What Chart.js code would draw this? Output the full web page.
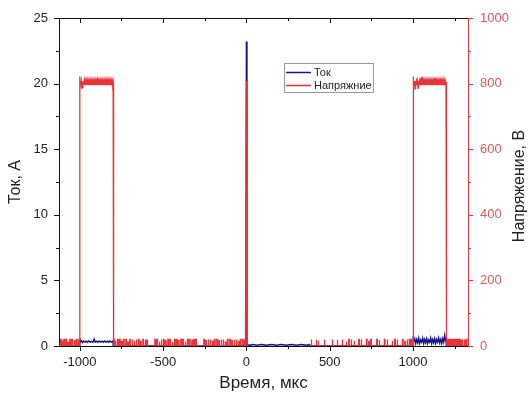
<!DOCTYPE html>
<html lang="ru">
<head>
<meta charset="UTF-8">
<title>Ток и напряжение</title>
<style>
    body { margin: 0; background: #fff; }
    .wrap { width: 532px; height: 398px; }
</style>
<script src="https://cdn.jsdelivr.net/npm/chart.js"></script>
</head>
<body>
<div class="wrap"><canvas id="chart"></canvas></div>
<script>
// axis ticks
const xTicks = [-1000, -500, 0, 500, 1000];
const xMinor = [-750, -250, 250, 750, 1250];
const aTicks = [0, 5, 10, 15, 20, 25];
const aMinor = [2.5, 7.5, 12.5, 17.5, 22.5];
const vTicks = [0, 200, 400, 600, 800, 1000];
const vMinor = [100, 300, 500, 700, 900];

// current trace [time, A]
const currentTrace = [
    [-1125, 0], [-1000, 0], [-1000, 0.6], [-996, 0.3], [-990, 0.4], [-984, 0.28], [-978, 0.38], [-970, 0.3],
    [-962, 0.36], [-954, 0.28], [-946, 0.38], [-938, 0.3], [-930, 0.36], [-922, 0.3], [-914, 0.52], [-908, 0.3],
    [-900, 0.36], [-892, 0.28], [-884, 0.38], [-876, 0.3], [-868, 0.36], [-860, 0.28], [-852, 0.38], [-844, 0.3],
    [-836, 0.36], [-828, 0.28], [-820, 0.38], [-812, 0.3], [-804, 0.36], [-800, 0.3], [-800, 0],
    [-3, 0], [0, 23.2], [3, 0.1], [20, 0.05], [40, 0.12], [60, 0.06], [90, 0.11], [120, 0.05], [150, 0.12],
    [180, 0.06], [210, 0.11], [240, 0.05], [270, 0.12], [300, 0.06], [330, 0.11], [360, 0.05], [378, 0.1], [382, 0],
    [1000, 0], [1000, 0.75], [1004, 0.3], [1010, 0.55], [1016, 0.2], [1022, 0.5], [1028, 0.25], [1034, 0.6],
    [1040, 0.2], [1046, 0.45], [1052, 0.3], [1058, 0.6], [1064, 0.2], [1070, 0.5], [1076, 0.25], [1082, 0.55],
    [1088, 0.2], [1094, 0.45], [1100, 0.3], [1106, 0.6], [1112, 0.2], [1118, 0.5], [1124, 0.25], [1130, 0.55],
    [1136, 0.2], [1142, 0.5], [1148, 0.3], [1154, 0.6], [1160, 0.25], [1166, 0.5], [1172, 0.2], [1178, 0.55],
    [1184, 0.3], [1190, 0.8], [1196, 0.4], [1200, 0.3], [1200, 0], [1330, 0]
];

// voltage trace [time, V]: pulses and the discharge spike
const voltageTrace = [
    [-1125, 0],
    [-1000, 0], [-1000, 822], [-998, 800], [-995, 808], [-992, 796], [-990, 784], [-988, 806], [-985, 796],
    [-982, 786], [-979, 808], [-976, 796], [-973, 809], [-970, 796], [-967, 808], [-964, 795], [-961, 807],
    [-958, 796], [-955, 808], [-952, 795], [-949, 807], [-946, 796], [-943, 808], [-940, 795], [-937, 807],
    [-934, 796], [-931, 808], [-928, 795], [-925, 807], [-922, 796], [-919, 808], [-916, 795], [-913, 807],
    [-910, 796], [-907, 808], [-904, 795], [-901, 807], [-898, 796], [-895, 808], [-894, 818], [-892, 796],
    [-889, 808], [-886, 795], [-883, 807], [-880, 796], [-877, 808], [-874, 795], [-871, 807], [-868, 796],
    [-865, 808], [-862, 795], [-859, 807], [-856, 796], [-853, 808], [-850, 795], [-847, 807], [-844, 796],
    [-841, 808], [-838, 795], [-835, 807], [-832, 796], [-829, 808], [-826, 795], [-823, 807], [-820, 796],
    [-817, 808], [-814, 795], [-811, 807], [-808, 796], [-805, 808], [-802, 797], [-800, 802], [-800, 0],
    [-4, 0], [0, 808], [3, -15], [378, -15], [380, 0],
    [1000, 0], [1000, 822], [1002, 800], [1005, 808], [1008, 796], [1011, 808], [1012, 784], [1014, 806],
    [1017, 796], [1020, 808], [1023, 795], [1026, 807], [1029, 796], [1030, 786], [1032, 807], [1035, 796],
    [1038, 808], [1041, 795], [1044, 807], [1047, 796], [1050, 808], [1053, 795], [1056, 820], [1058, 796],
    [1061, 808], [1064, 795], [1067, 807], [1070, 796], [1073, 808], [1076, 795], [1079, 807], [1082, 796],
    [1085, 808], [1088, 795], [1091, 807], [1094, 796], [1097, 808], [1100, 795], [1103, 807], [1106, 796],
    [1109, 808], [1112, 795], [1115, 807], [1118, 796], [1121, 808], [1124, 795], [1127, 807], [1130, 796],
    [1134, 818], [1136, 796], [1139, 808], [1142, 795], [1145, 807], [1148, 796], [1151, 808], [1154, 795],
    [1157, 807], [1160, 796], [1163, 808], [1166, 795], [1169, 807], [1172, 796], [1175, 808], [1178, 795],
    [1181, 807], [1184, 796], [1187, 808], [1190, 795], [1193, 807], [1196, 796], [1198, 806], [1200, 802],
    [1200, 0],
    [1330, 0]
];

// small voltage spikes on the baseline [time, V]
const noiseSpikes = [
    [-1114, 20], [-1106, 14], [-1094, 20], [-1082, 20], [-1070, 12], [-1058, 20], [-1046, 20], [-1030, 16],
    [-1018, 20], [-1008, 20],
    [-794, 20], [-786, 16], [-772, 20], [-760, 20], [-748, 14], [-736, 20], [-722, 20], [-710, 12], [-698, 20],
    [-684, 20], [-672, 16], [-660, 20], [-646, 20], [-634, 14], [-620, 20], [-606, 20], [-596, 18],
    [-548, 20], [-536, 20], [-522, 14], [-510, 20], [-496, 20], [-484, 16], [-470, 20], [-458, 20], [-444, 12],
    [-430, 20], [-418, 20], [-406, 16], [-392, 20], [-380, 20], [-366, 14], [-352, 20], [-340, 20], [-326, 18],
    [-314, 20], [-302, 20],
    [-254, 20], [-242, 16], [-228, 20], [-216, 20], [-202, 14], [-190, 20], [-176, 20], [-164, 16], [-150, 20],
    [-138, 20], [-124, 12], [-112, 20], [-98, 20], [-86, 16], [-72, 20], [-60, 20], [-46, 14], [-34, 20],
    [-20, 20], [-10, 18],
    [390, 20], [420, 20], [432, 16], [468, 20], [516, 20], [546, 18], [576, 20], [600, 14], [616, 20],
    [630, 20], [648, 16], [676, 20], [690, 20], [722, 20], [736, 14], [748, 20], [784, 20], [798, 18],
    [830, 20], [846, 20], [876, 16], [892, 20], [906, 20], [938, 20], [952, 14], [966, 20], [980, 20], [992, 20],
    [1204, 18], [1210, 20], [1216, 16], [1222, 20], [1228, 18], [1234, 20], [1240, 16], [1246, 20], [1252, 18],
    [1258, 20], [1264, 16], [1270, 20], [1276, 18], [1282, 20], [1288, 16], [1296, 20], [1310, 18], [1322, 20]
];

const RED = '#e8333a';
const BLUE = '#16168f';
const FONT = "'Liberation Sans', Arial, sans-serif";

const currentData = currentTrace.map(p => ({x: p[0], y: p[1]}));
const voltageData = voltageTrace.map(p => ({x: p[0], y: p[1]}));
// each baseline spike drawn as a narrow flat-topped blip
noiseSpikes.forEach(p => {
    voltageData.push({x: p[0] - 2, y: 0}, {x: p[0] - 2, y: p[1]}, {x: p[0] + 2, y: p[1]}, {x: p[0] + 2, y: 0});
});
voltageData.sort((a, b) => a.x - b.x);

// Origin-style ticks, top frame line, right title and legend
const framePlugin = {
    id: 'frame',
    afterDatasetsDraw(chart) {
        const {ctx, chartArea: a, scales} = chart;
        const seg = (x1, y1, x2, y2) => {
            ctx.beginPath(); ctx.moveTo(x1, y1); ctx.lineTo(x2, y2); ctx.stroke();
        };
        const r = v => Math.round(v) + 0.5;
        ctx.save();
        ctx.lineWidth = 1;
        ctx.strokeStyle = '#111';
        seg(a.left, r(a.top), a.right, r(a.top));
        xTicks.forEach(v => {
            const px = r(scales.x.getPixelForValue(v));
            seg(px, a.bottom, px, a.bottom + 5);
            seg(px, a.top, px, a.top + 5);
        });
        xMinor.forEach(v => {
            const px = r(scales.x.getPixelForValue(v));
            seg(px, a.bottom, px, a.bottom + 3);
            seg(px, a.top, px, a.top + 3);
        });
        aTicks.forEach(v => { const py = r(scales.y.getPixelForValue(v)); seg(a.left - 5, py, a.left, py); });
        aMinor.forEach(v => { const py = r(scales.y.getPixelForValue(v)); seg(a.left - 3, py, a.left, py); });
        ctx.strokeStyle = RED;
        vTicks.forEach(v => { const py = r(scales.yv.getPixelForValue(v)); seg(a.right, py, a.right + 5, py); });
        vMinor.forEach(v => { const py = r(scales.yv.getPixelForValue(v)); seg(a.right, py, a.right + 3, py); });

        // right axis title, read bottom to top
        ctx.translate(520, (a.top + a.bottom) / 2 + 4);
        ctx.rotate(-Math.PI / 2);
        ctx.fillStyle = '#222';
        ctx.font = '16px ' + FONT;
        ctx.textAlign = 'center';
        ctx.textBaseline = 'middle';
        ctx.fillText('Напряжение, В', 0, 0);
        ctx.restore();
    },
    afterDraw(chart) {
        const ctx = chart.ctx;
        ctx.save();
        ctx.fillStyle = '#fff';
        ctx.fillRect(284, 63, 89, 29);
        ctx.strokeStyle = '#999';
        ctx.lineWidth = 1;
        ctx.strokeRect(284.5, 63.5, 89, 29);
        ctx.font = '11px ' + FONT;
        ctx.textBaseline = 'middle';
        chart.data.datasets.forEach((ds, i) => {
            const y = 72.5 + i * 13;
            ctx.strokeStyle = ds.borderColor;
            ctx.lineWidth = 1.5;
            ctx.beginPath(); ctx.moveTo(286, y); ctx.lineTo(311, y); ctx.stroke();
            ctx.fillStyle = '#222';
            ctx.fillText(ds.label, 314, y);
        });
        ctx.restore();
    }
};

new Chart(document.getElementById('chart'), {
    type: 'line',
    data: {
        datasets: [
            {label: 'Ток', data: currentData, yAxisID: 'y', borderColor: BLUE, borderWidth: 1.5, order: 1},
            {label: 'Напряжние', data: voltageData, yAxisID: 'yv', borderColor: RED, borderWidth: 1.3, order: 0}
        ]
    },
    options: {
        responsive: true,
        maintainAspectRatio: false,
        animation: false,
        layout: {padding: {top: 18}},
        elements: {point: {radius: 0}, line: {tension: 0}},
        plugins: {legend: {display: false}, tooltip: {enabled: false}},
        scales: {
            x: {
                type: 'linear', min: -1125, max: 1330,
                afterBuildTicks: s => { s.ticks = xTicks.map(v => ({value: v})); },
                afterFit: s => { s.height = 52; },
                grid: {display: false, drawTicks: true, tickLength: 6},
                border: {color: '#111', width: 1},
                ticks: {font: {family: FONT, size: 13}, color: '#222', padding: 3, maxRotation: 0,
                        callback: v => String(v)},
                title: {display: true, text: 'Время, мкс', color: '#222',
                        font: {family: FONT, size: 17}, padding: {top: 1}}
            },
            y: {
                position: 'left', min: 0, max: 25,
                afterBuildTicks: s => { s.ticks = aTicks.map(v => ({value: v})); },
                afterFit: s => { s.width = 59; },
                grid: {display: false, drawTicks: true, tickLength: 6},
                border: {color: '#111', width: 1},
                ticks: {font: {family: FONT, size: 13}, color: '#222', padding: 5, callback: v => String(v)},
                title: {display: true, text: 'Ток, А', color: '#222',
                        font: {family: FONT, size: 16}, padding: {top: 6}}
            },
            yv: {
                position: 'right', min: 0, max: 1000,
                afterBuildTicks: s => { s.ticks = vTicks.map(v => ({value: v})); },
                afterFit: s => { s.width = 64; },
                grid: {display: false, drawTicks: true, tickLength: 6},
                border: {color: RED, width: 1},
                ticks: {font: {family: FONT, size: 13}, color: '#e0575c', padding: 6, callback: v => String(v)}
            }
        }
    },
    plugins: [framePlugin]
});
</script>
</body>
</html>
